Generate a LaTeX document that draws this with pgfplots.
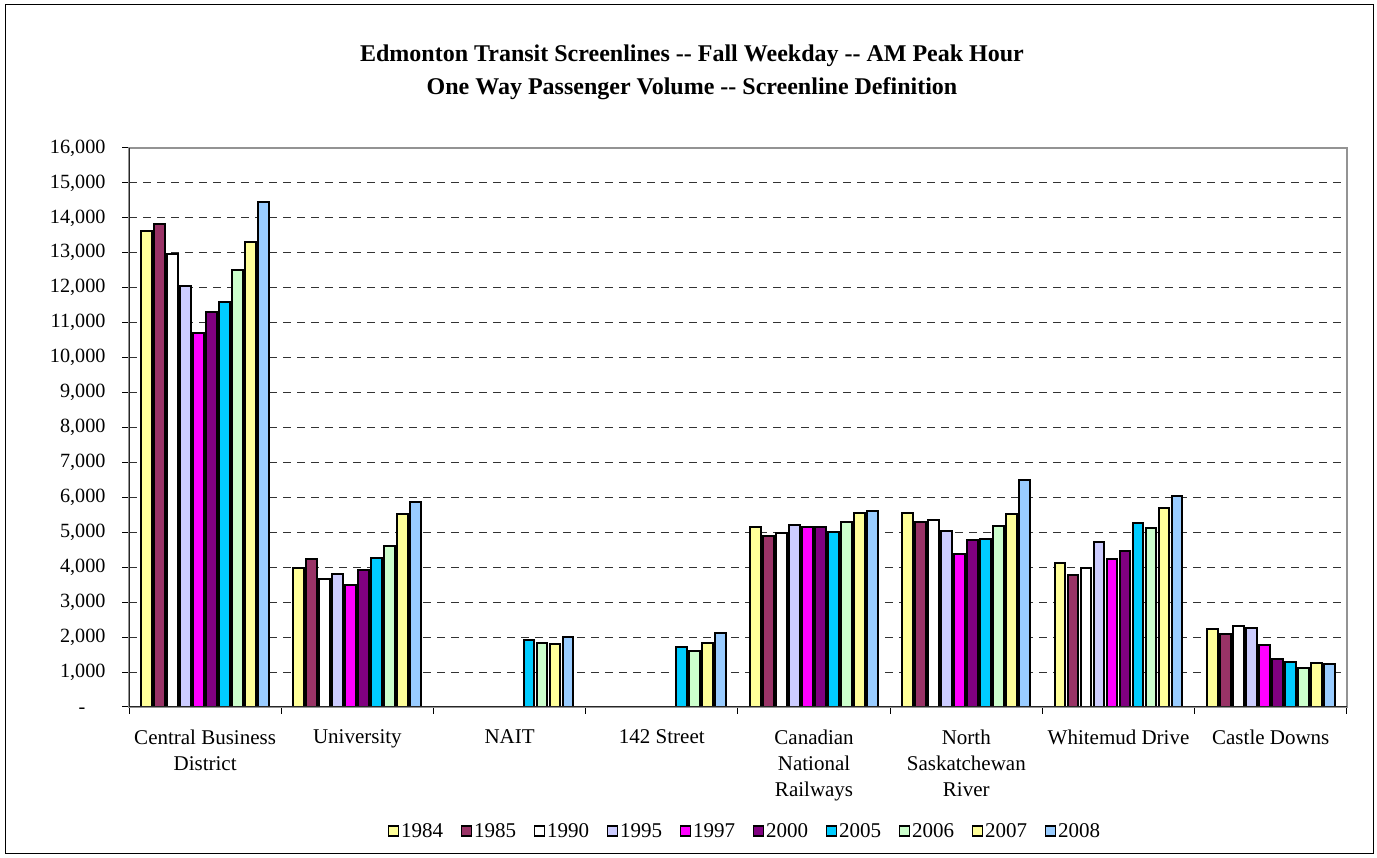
\documentclass[border=0pt]{standalone}
\usepackage{fontspec}
\setmainfont{Liberation Serif}
\usepackage{pgfplots}
\usepackage{pgfplotstable}
\pgfplotsset{compat=1.18}

\definecolor{c1984}{HTML}{FFFF99}
\definecolor{c1985}{HTML}{993366}
\definecolor{c1990}{HTML}{FFFFFF}
\definecolor{c1995}{HTML}{CCCCFF}
\definecolor{c1997}{HTML}{FF00FF}
\definecolor{c2000}{HTML}{800080}
\definecolor{c2005}{HTML}{00CCFF}
\definecolor{c2006}{HTML}{CCFFCC}
\definecolor{c2007}{HTML}{FFFF99}
\definecolor{c2008}{HTML}{99CCFF}

% One-way AM peak hour passenger volume by screenline (rows) and year (columns)
\pgfplotstableread{
x  y1984 y1985 y1990 y1995 y1997 y2000 y2005 y2006 y2007 y2008
0  13620 13820 12960 12040 10700 11300 11580 12520 13300 14460
1  3970  4250  3650  3800  3500  3920  4270  4600  5520  5870
2  nan   nan   nan   nan   nan   nan   1920  1820  1790  1990
3  nan   nan   nan   nan   nan   nan   1720  1600  1840  2110
4  5140  4880  4970  5220  5150  5150  5020  5300  5550  5620
5  5560  5300  5340  5040  4380  4770  4800  5180  5520  6500
6  4130  3790  3990  4730  4250  4460  5260  5130  5700  6050
7  2220  2080  2310  2250  1780  1380  1290  1120  1250  1230
}\screenlines

\tikzset{yearbar/.style={fill=#1, draw=black, line width=2pt}}

\begin{document}
\begin{tikzpicture}
\useasboundingbox (0pt,0pt) rectangle (1377pt,858pt);
\draw[black, line width=1pt] (5.5pt,4.5pt) rectangle (1373pt,853.5pt);

\node[align=center, font=\bfseries\fontsize{24}{33}\selectfont] at (692pt,786pt)
  {Edmonton Transit Screenlines -{}- Fall Weekday -{}- AM Peak Hour\\
   One Way Passenger Volume -{}- Screenline Definition};

\coordinate (plotorigin) at (129pt,151pt);
\begin{axis}[
  at={(plotorigin)}, anchor=south west,
  scale only axis, width=1218pt, height=559pt,
  xmin=-0.5, xmax=7.5, ymin=0, ymax=16000,
  scaled y ticks=false,
  ybar=2.2pt, bar width=10.8pt,
  axis line style={draw=gray!85, line width=1.5pt},
  ytick={0,1000,...,16000},
  yticklabels={{-\phantom{00}},{1,000},{2,000},{3,000},{4,000},{5,000},{6,000},{7,000},{8,000},{9,000},{10,000},{11,000},{12,000},{13,000},{14,000},{15,000},{16,000}},
  xtick={0,...,7},
  xticklabels={{Central Business\\District},{University},{NAIT},{142 Street},{Canadian\\National\\Railways},{North\\Saskatchewan\\River},{Whitemud Drive},{Castle Downs}},
  minor xtick={-0.5,0.5,...,7.5},
  major x tick style={draw=none},
  tick align=outside, major tick length=7pt, minor tick length=7pt,
  tick style={black, line width=1pt},
  xtick pos=bottom, ytick pos=left,
  ymajorgrids,
  major grid style={black!80, line width=1pt, dash pattern=on 8pt off 6pt},
  tick label style={font=\fontsize{21}{26}\selectfont},
  xticklabel style={align=center, yshift=-12pt},
  yticklabel style={font=\fontsize{20.2}{24}\selectfont, xshift=-13pt},
  legend columns=10,
  legend style={draw=none, at={(0.5057,-0.2218)}, anchor=center,
    font=\fontsize{21}{22}\selectfont,
    /tikz/every even column/.append style={column sep=15.5pt},
    nodes={inner sep=2pt}},
  legend image code/.code={\draw[#1, draw=black, line width=1.5pt] (0pt,-5pt) rectangle (10pt,5pt);},
]
\addplot[yearbar=c1984] table[x=x, y=y1984] {\screenlines};
\addplot[yearbar=c1985] table[x=x, y=y1985] {\screenlines};
\addplot[yearbar=c1990] table[x=x, y=y1990] {\screenlines};
\addplot[yearbar=c1995] table[x=x, y=y1995] {\screenlines};
\addplot[yearbar=c1997] table[x=x, y=y1997] {\screenlines};
\addplot[yearbar=c2000] table[x=x, y=y2000] {\screenlines};
\addplot[yearbar=c2005] table[x=x, y=y2005] {\screenlines};
\addplot[yearbar=c2006] table[x=x, y=y2006] {\screenlines};
\addplot[yearbar=c2007] table[x=x, y=y2007] {\screenlines};
\addplot[yearbar=c2008] table[x=x, y=y2008] {\screenlines};
\legend{1984,1985,1990,1995,1997,2000,2005,2006,2007,2008}
% dark left and bottom axis lines over the gray plot-area frame
\draw[black!85, line width=1.2pt] (rel axis cs:0,1) -- (rel axis cs:0,0) -- (rel axis cs:1,0);
\end{axis}
\end{tikzpicture}
\end{document}
